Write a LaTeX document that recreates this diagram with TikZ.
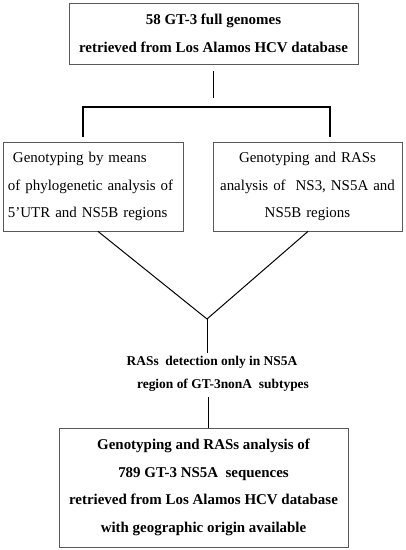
\documentclass[tikz,border=0pt]{standalone}
\usepackage{fontspec}
\setmainfont{Liberation Serif}
\usetikzlibrary{positioning}

\tikzset{
  fbox/.style={draw=black!65, line width=0.8bp, inner sep=0,
               font=\fontsize{15}{27.7}\selectfont},
  flink/.style={black, line width=1bp},
  fbrack/.style={black, line width=2bp},
}

\begin{document}
\begin{tikzpicture}[x=1bp, y=-1bp]
    % pixel grid of the reference: 405 x 550, y downwards
    \useasboundingbox (0,0) rectangle (405,550);

    % --- top: full genomes ---
    \node[fbox, font=\bfseries\fontsize{15}{28}\selectfont,
          minimum width=289bp, minimum height=61bp, align=center]
          (genomes) at (213.5, 33.5)
          {58 GT-3 full genomes\\retrieved from Los Alamos HCV database};

    % --- bracket ---
    \coordinate (brkL) at (83, 107);
    \coordinate (brkR) at (330, 107);
    \coordinate (brkLend) at (83, 137);
    \coordinate (brkRend) at (330, 137);
    \draw[flink, shorten <=7bp, shorten >=9bp]
          (genomes.south) -- (genomes.south |- brkL);
    \draw[fbrack] (brkLend) -- (brkL) -- (brkR) -- (brkRend);

    % --- two analysis boxes ---
    \node[fbox, minimum width=180bp, minimum height=89bp,
          text width=170bp, inner xsep=5bp, align=left]
          (phylo) at (93, 186.5)
          {\hspace*{5bp}Genotyping by means\\of phylogenetic analysis of\\5’UTR and NS5B regions};
    \node[fbox, minimum width=189bp, minimum height=89bp,
          text width=179bp, inner xsep=5bp, align=center]
          (ras) at (307.5, 186.5)
          {Genotyping and RASs\\analysis of\ \ NS3, NS5A and\\NS5B regions};

    % --- merge ---
    \coordinate (meet) at (207, 319);
    \draw[flink] ([xshift=5bp]phylo.south) -- (meet) -- ([xshift=0.5bp]ras.south);

    % --- note between ---
    \node[font=\bfseries\fontsize{13.5}{23}\selectfont, align=center, inner sep=0]
          (note) at (212, 373.5)
          {RASs\ \ detection only in NS5A\\\hspace*{22bp}region of GT-3nonA\ \ subtypes};
    \coordinate (notetop) at (207, 353);
    \coordinate (notebot) at (208, 397);
    \draw[flink] (meet) -- (notetop);

    % --- bottom: NS5A sequences ---
    \node[fbox, font=\bfseries\fontsize{15}{27.7}\selectfont,
          minimum width=289bp, minimum height=119bp, align=center]
          (seqs) at (203.5, 487.5)
          {Genotyping and RASs analysis of\\789 GT-3 NS5A\ \ sequences\\retrieved from Los Alamos HCV database\\with geographic origin available};
    \draw[flink] (notebot) -- (notebot |- seqs.north);
  \end{tikzpicture}
\end{document}
